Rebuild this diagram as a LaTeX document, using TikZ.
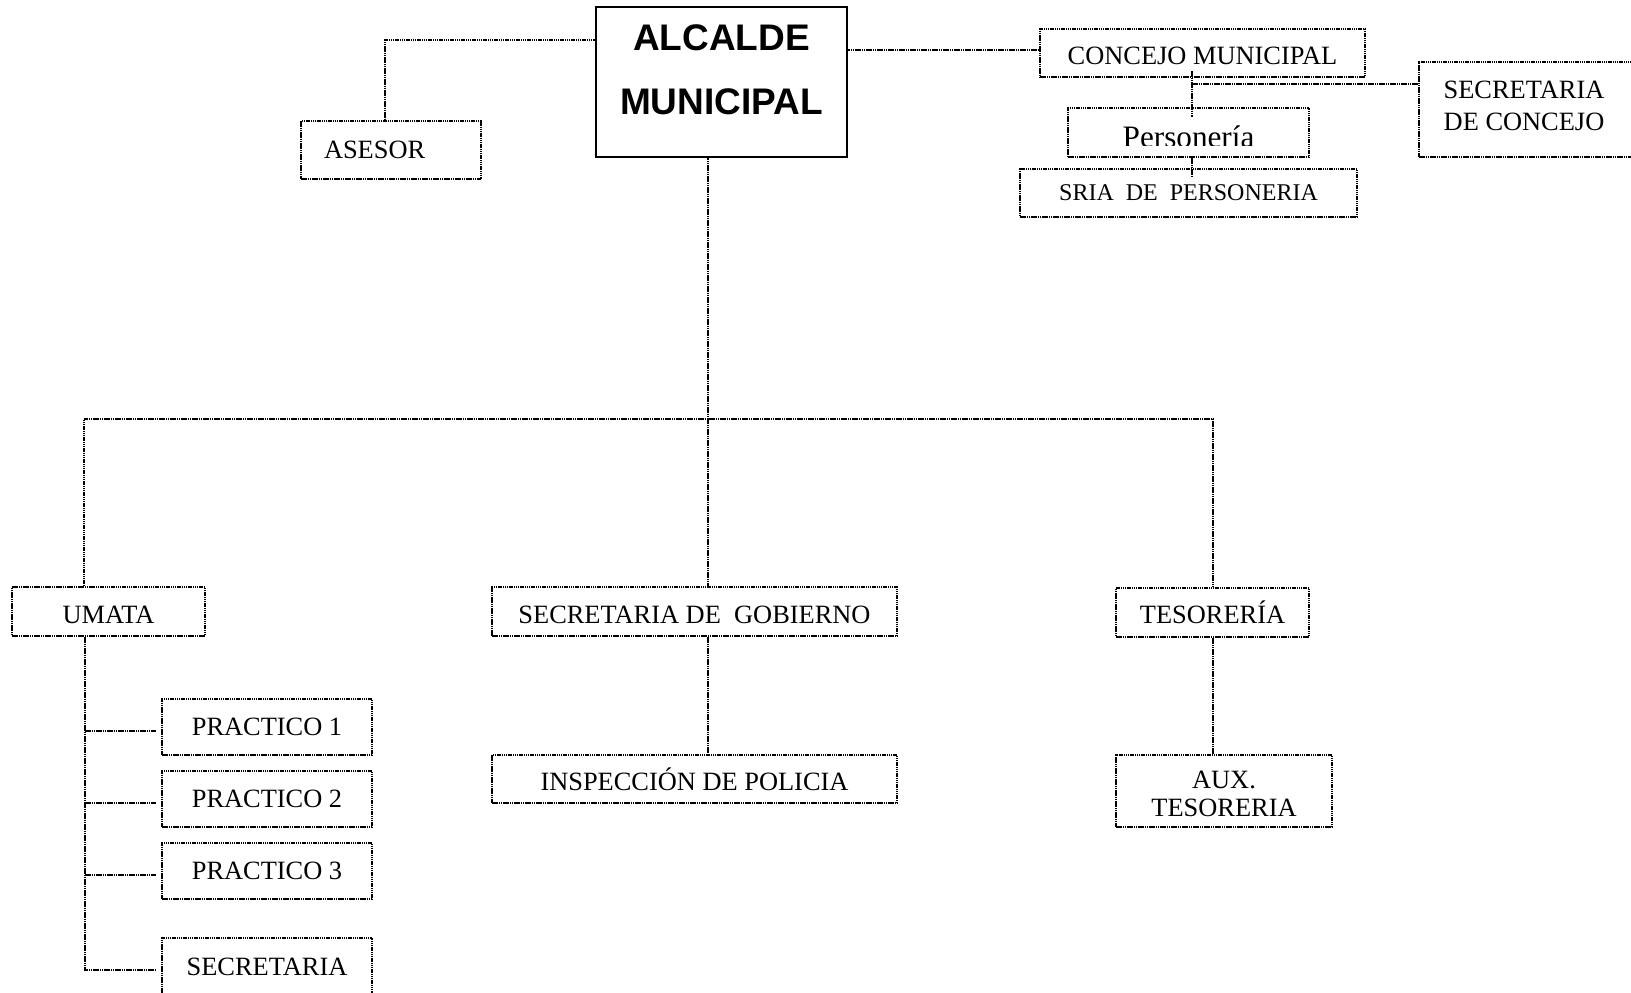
\documentclass[tikz,border=0pt]{standalone}
\usepackage{fontspec}
\setmainfont{Liberation Serif}
\newfontfamily\sansf{Liberation Sans}
\usetikzlibrary{calc}
\begin{document}
\begin{tikzpicture}[x=0.5pt,y=-0.5pt,
  dl/.style={line width=1pt, dash pattern=on 0.75pt off 0.35pt},
  dbox/.style={draw, dl, rectangle, inner sep=0pt, align=center, font=\fontsize{13.2}{15}\selectfont},
  low/.style={text height=11.7pt, text depth=0pt},
  txt/.style={inner sep=0pt, align=center, font=\fontsize{13.2}{16}\selectfont}
]
\useasboundingbox (0,0) rectangle (1631,992);
\clip (0,0) rectangle (1631,992);

% top level
\node[draw, line width=1.4pt, minimum width=125.5pt, minimum height=75pt, inner sep=0pt] (alcalde) at (721.5,82) {};
\node[inner sep=0pt, align=center, font=\sansf\bfseries\fontsize{18.5}{32}\selectfont] (alcaldet) at (721.5,70) {ALCALDE\\MUNICIPAL};

\node[dbox, minimum width=90pt, minimum height=29pt, text width=67pt, inner xsep=11.5pt, align=left] (asesor) at (391,150) {ASESOR};
\node[dbox, low, minimum width=162.5pt, minimum height=24pt] (concejo) at (1202.5,53) {CONCEJO MUNICIPAL};
\node[dbox, minimum width=113pt, minimum height=47.5pt] (secconcejo) at (1532,109.5) {};
\node[txt] (secconcejot) at (1524,106) {SECRETARIA\\DE CONCEJO};
\node[dbox, minimum width=120.5pt, minimum height=24.5pt] (personeria) at (1188.5,132.5) {};
\begin{scope}
\clip (1068,108) rectangle (1309,145.5);
\node[inner sep=0pt, anchor=base, font=\fontsize{15.6}{18}\selectfont] (personeriat) at (1188.5,147.5) {Personería};
\end{scope}
\node[dbox, minimum width=168.5pt, minimum height=24pt, font=\fontsize{12}{14}\selectfont] (sria) at (1188.5,193) {SRIA\ \ DE\ \ PERSONERIA};

% second level
\node[dbox, low, minimum width=96.5pt, minimum height=24.5pt] (umata) at (108.5,611.5) {UMATA};
\node[dbox, low, minimum width=202.5pt, minimum height=24.5pt] (secgob) at (694.5,611.5) {SECRETARIA DE\ \ GOBIERNO};
\node[dbox, minimum width=96.5pt, minimum height=24.5pt] (tesoreria) at (1212.5,612.5) {TESORERÍA};

% third level
\node[dbox, minimum width=105pt, minimum height=28pt] (p1) at (267,727) {PRACTICO 1};
\node[dbox, minimum width=105pt, minimum height=28pt] (p2) at (267,799) {PRACTICO 2};
\node[dbox, minimum width=105pt, minimum height=28pt] (p3) at (267,871) {PRACTICO 3};
\node[dbox, minimum width=105pt, minimum height=29pt] (secre) at (267,967) {SECRETARIA};
\node[dbox, minimum width=202.5pt, minimum height=24pt] (insp) at (694.5,779) {INSPECCIÓN DE POLICIA};
\node[dbox, minimum width=108pt, minimum height=36pt, font=\fontsize{13.2}{14}\selectfont] (aux) at (1224,791) {\rule{0pt}{11.85pt}AUX.\\TESORERIA};

% connectors
\draw[dl] (alcalde.west |- 0,40) -| (asesor.north -| 385,0);
\draw[dl] (alcalde.east |- 0,50) -- (concejo.west |- 0,50);
\coordinate (j1) at (1192,84);
\draw[dl] ($(concejo.south -| j1)+(0,-7)$) -- ($(personeria.north -| j1)+(0,10)$);
\draw[dl] (j1) -- (secconcejo.west |- j1);
\draw[dl] (personeria.south -| j1) -- ($(sria.north -| j1)+(0,8)$);

\coordinate (bus) at (708,419);
\draw[dl] (alcalde.south -| bus) -- (secgob.north -| bus);
\draw[dl] (umata.north -| 84,0) |- (bus) -| (tesoreria.north -| 1213,0);
\draw[dl] (secgob.south -| bus) -- (insp.north -| bus);
\draw[dl] (tesoreria.south -| 1213,0) -- (aux.north -| 1213,0);

\draw[dl] (umata.south -| 85,0) |- ($(secre.west |- 0,970)+(-5,0)$);
\foreach \n/\y in {p1/731,p2/803,p3/875}
  \draw[dl] (85,\y) -- ($(\n.west |- 0,\y)+(-5,0)$);
\end{tikzpicture}
\end{document}
